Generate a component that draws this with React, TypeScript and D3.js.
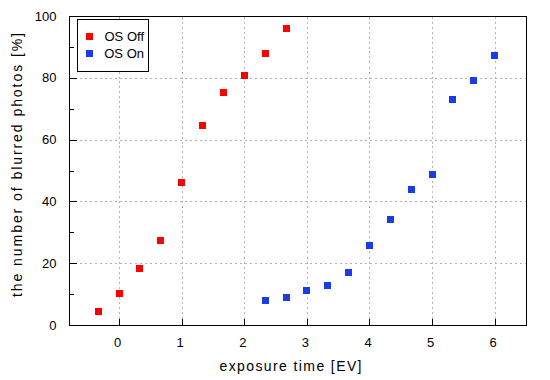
import React from "react";
import * as d3 from "d3";

const offX = [-1 / 3, 0, 1 / 3, 2 / 3, 1, 4 / 3, 5 / 3, 2, 7 / 3, 8 / 3];
const offY = [4.5, 10.2, 18.3, 27.4, 46.0, 64.7, 75.1, 80.9, 88.0, 96.1];
const onX = [7 / 3, 8 / 3, 3, 10 / 3, 11 / 3, 4, 13 / 3, 14 / 3, 5, 16 / 3, 17 / 3, 6];
const onY = [8.0, 9.0, 11.2, 12.8, 17.0, 25.8, 34.2, 44.0, 48.8, 73.0, 79.2, 87.3];
const xTicks = [0, 1, 2, 3, 4, 5, 6];
const yTicks = [0, 20, 40, 60, 80, 100];
const yMinor = [10, 30, 50, 70, 90];
const seriesNames = ["OS Off", "OS On"];
const colors = ["#ff0000", "#1a3ce6"];

const W = 550, H = 380;
const L = 69, T = 16, R = 526, B = 325;
const font = "'Liberation Sans', Arial, sans-serif";

export default function App() {
  const x = d3.scaleLinear().domain([-0.8, 6.5]).range([L, R]);
  const y = d3.scaleLinear().domain([0, 100]).range([B, T]);
  const px = (v: number) => Math.round(x(v)) + 0.5;
  const py = (v: number) => Math.round(y(v)) + 0.5;
  const series = [
    { xs: offX, ys: offY },
    { xs: onX, ys: onY },
  ];
  const ms = 7;
  return (
    <svg width={W} height={H} style={{ position: "absolute", left: 0, top: 0, background: "#fff" }}
      fontFamily={font}>
      <rect x={0} y={0} width={W} height={H} fill="#fff" />
      {/* grid */}
      <g stroke="#b4b4b4" strokeWidth={1} strokeDasharray="2,3" shapeRendering="crispEdges">
        {xTicks.map((t) => (
          <line key={"gx" + t} x1={px(t)} x2={px(t)} y1={T + 0.5} y2={B + 0.5} />
        ))}
        {yTicks.filter((t) => t > 0 && t < 100).map((t) => (
          <line key={"gy" + t} x1={L + 0.5} x2={R + 0.5} y1={py(t)} y2={py(t)} />
        ))}
      </g>
      {/* ticks */}
      <g stroke="#000" strokeWidth={1} shapeRendering="crispEdges">
        {xTicks.map((t) => (
          <line key={"tx" + t} x1={px(t)} x2={px(t)} y1={B + 0.5} y2={B + 0.5 - 7} />
        ))}
        {yTicks.map((t) => (
          <line key={"ty" + t} x1={L + 0.5} x2={L + 0.5 + 7} y1={py(t)} y2={py(t)} />
        ))}
        {yMinor.map((t) => (
          <line key={"tm" + t} x1={L + 0.5} x2={L + 0.5 + 4} y1={py(t)} y2={py(t)} />
        ))}
      </g>
      {/* tick labels */}
      <g fontSize={13} fill="#000">
        {xTicks.map((t) => (
          <text key={"lx" + t} x={x(t) - 1.5} y={346.5} textAnchor="middle">{t}</text>
        ))}
        {yTicks.map((t) => (
          <text key={"ly" + t} x={56.5} y={y(t) + 4.5} textAnchor="end">{t}</text>
        ))}
      </g>
      {/* points */}
      {series.map((s, si) => (
        <g key={"s" + si} fill={colors[si]}>
          {s.xs.map((xv, i) => (
            <rect key={i} x={Math.round(x(xv) - ms / 2)} y={Math.round(y(s.ys[i]) - ms / 2)} width={ms} height={ms} />
          ))}
        </g>
      ))}
      {/* border */}
      <rect x={L + 0.5} y={T + 0.5} width={R - L} height={B - T} fill="none" stroke="#000" strokeWidth={1} shapeRendering="crispEdges" />
      {/* legend */}
      <rect x={77.5} y={19.5} width={71} height={52} fill="#fff" stroke="#000" strokeWidth={1} shapeRendering="crispEdges" />
      {seriesNames.map((n, i) => (
        <g key={"lg" + i}>
          <rect x={86} y={33 + i * 17} width={ms} height={ms} fill={colors[i]} />
          <text x={144} y={40.5 + i * 17} fontSize={13} textAnchor="end">{n}</text>
        </g>
      ))}
      {/* axis labels */}
      <text x={290.5} y={371} fontSize={14} textAnchor="middle" textLength={142} lengthAdjust="spacing">exposure time [EV]</text>
      <text transform="translate(22,165) rotate(-90)" fontSize={14} textAnchor="middle" textLength={264} lengthAdjust="spacing">the number of blurred photos [%]</text>
    </svg>
  );
}
